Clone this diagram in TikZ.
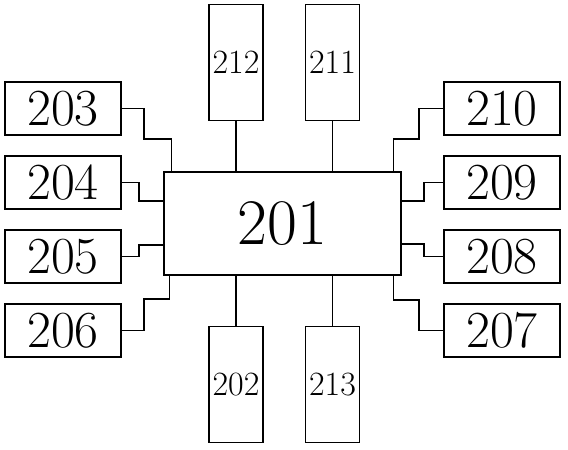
\documentclass[tikz,border=0pt]{standalone}
\usepackage{tikz}
\usetikzlibrary{
    positioning,
    calc
}

\begin{document}
\begin{tikzpicture}[
    x=1pt, y=-1pt,
    % Central unit
    mainbox/.style={
        rectangle,
        draw=black,
        minimum width=237pt,
        minimum height=103pt,
        inner sep=0pt,
        font=\fontsize{65}{65}\selectfont,
        line width=1.6pt
    },
    % Side units (left and right columns)
    sidebox/.style={
        rectangle,
        draw=black,
        minimum width=116pt,
        minimum height=53pt,
        inner sep=0pt,
        font=\fontsize{52}{52}\selectfont,
        line width=1.6pt
    },
    % Tall units (top and bottom)
    tallbox/.style={
        rectangle,
        draw=black,
        minimum width=54pt,
        minimum height=116pt,
        inner sep=0pt,
        font=\fontsize{34}{34}\selectfont,
        line width=1.6pt
    },
    % Connector style
    link/.style={
        draw=black,
        line width=1.3pt
    }
]

\useasboundingbox (0,0) rectangle (568,450);

% ============================================
% CENTRAL UNIT
% ============================================

\node[mainbox] (n201) at (282.5, 223.5) {201};

% ============================================
% LEFT COLUMN
% ============================================

\node[sidebox] (n203) at (63, 108.5) {203};
\node[sidebox] (n204) at (63, 182.5) {204};
\node[sidebox] (n205) at (63, 256.5) {205};
\node[sidebox] (n206) at (63, 330.5) {206};

% ============================================
% RIGHT COLUMN
% ============================================

\node[sidebox] (n210) at (502, 108.5) {210};
\node[sidebox] (n209) at (502, 182.5) {209};
\node[sidebox] (n208) at (502, 256.5) {208};
\node[sidebox] (n207) at (502, 330.5) {207};

% ============================================
% TOP AND BOTTOM UNITS
% ============================================

\node[tallbox] (n212) at (236, 62.5) {212};
\node[tallbox] (n211) at (332.5, 62.5) {211};

\node[tallbox] (n202) at (236, 384.5) {202};
\node[tallbox] (n213) at (332.5, 384.5) {213};

% ============================================
% CONNECTIONS
% ============================================

% Left side
\draw[link] (n203.east) -| (144,139) -| ([xshift=8pt]n201.north west);
\draw[link] (n204.east) -| (139,201) -- (n201.west |- 0,201);
\draw[link] (n205.east) -| (139,245) -- (n201.west |- 0,245);
\draw[link] (n206.east) -| (144,299) -| ([xshift=6pt]n201.south west);

% Right side
\draw[link] (n210.west) -| (419,139) -| ([xshift=-8pt]n201.north east);
\draw[link] (n209.west) -| (424,201) -- (n201.east |- 0,201);
\draw[link] (n208.west) -| (424,244) -- (n201.east |- 0,244);
\draw[link] (n207.west) -| (419,300) -| ([xshift=-8pt]n201.south east);

% Top and bottom
\foreach \u in {n212, n211} {
    \draw[link] (\u.south) -- (\u.south |- n201.north);
}
\foreach \u in {n202, n213} {
    \draw[link] (\u.north) -- (\u.north |- n201.south);
}

\end{tikzpicture}
\end{document}
